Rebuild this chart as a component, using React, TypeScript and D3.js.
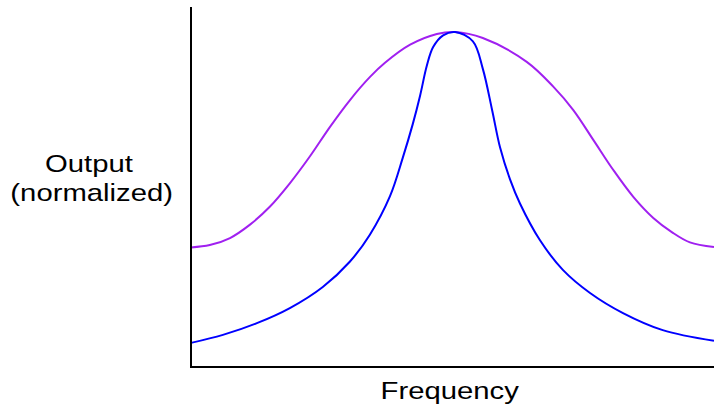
import * as React from 'react';
import { scaleLinear, line, curveCatmullRom } from 'd3';

// frequency (0-100 across the plot) and normalized output
const broadFreq = [0, 3.6, 7.46, 11.28, 15.11, 18.93, 22.75, 26.58, 30.4, 34.23, 37.09, 41.9, 47.0, 50.5, 55.8, 64.19, 69.27, 73.1, 76.92, 80.75, 84.57, 88.39, 92.0, 95.4, 100];
const broadOut = [0.357, 0.364, 0.385, 0.425, 0.479, 0.549, 0.629, 0.717, 0.797, 0.866, 0.908, 0.962, 0.994, 1.0, 0.982, 0.911, 0.837, 0.767, 0.678, 0.588, 0.508, 0.445, 0.402, 0.372, 0.358];

const sharpFreq = [0, 6.1, 12.6, 18.9, 25.2, 30.4, 34.2, 38.05, 40.5, 42.4, 43.8, 45.1, 46.3, 48.2, 50.5, 53.9, 55.8, 57.6, 59.1, 61.0, 62.9, 66.7, 71.1, 76.3, 82.6, 90.2, 100];
const sharpOut = [0.072, 0.096, 0.131, 0.176, 0.239, 0.315, 0.395, 0.51, 0.625, 0.725, 0.81, 0.9, 0.955, 0.99, 1.0, 0.972, 0.89, 0.765, 0.655, 0.56, 0.488, 0.379, 0.29, 0.221, 0.161, 0.11, 0.078];

const yLabel = ['Output', '(normalized)'];
const xLabel = 'Frequency';

const W = 714;
const H = 414;

const App = () => {
    const margin = { top: 7, left: 191, right: 0, bottom: 47 };
    const x = scaleLinear().domain([0, 100]).range([margin.left, W - margin.right]);
    const y = scaleLinear().domain([0, 1]).range([H - margin.bottom, 32]);

    const toPts = (xs: number[], ys: number[]) => xs.map((v, i) => [v, ys[i]] as [number, number]);
    const path = line<[number, number]>()
        .x(d => x(d[0]))
        .y(d => y(d[1]))
        .curve(curveCatmullRom.alpha(0.5));

    const x0 = x(0);
    const yBase = y(0);
    // the labels in the reference are a bit wider than plain Arial
    const stretch = 1.22;

    return (
        <svg width={W} height={H} style={{ position: 'absolute', left: 0, top: 0, background: 'white' }}
            fontFamily="Liberation Sans, Arial, sans-serif">
            <path d={path(toPts(broadFreq, broadOut)) || ''} fill="none" stroke="#a020f0" strokeWidth={2} />
            <path d={path(toPts(sharpFreq, sharpOut)) || ''} fill="none" stroke="#0000ff" strokeWidth={2} />

            {/* axes, no ticks */}
            <line x1={x0} x2={x0} y1={margin.top} y2={yBase + 1} stroke="black" strokeWidth={2} />
            <line x1={x0 - 1} x2={x(100)} y1={yBase} y2={yBase} stroke="black" strokeWidth={2} />

            <text transform={`translate(89,171.5) scale(${stretch},1)`} textAnchor="middle" fontSize={24} fill="black">{yLabel[0]}</text>
            <text transform={`translate(91.7,201) scale(${stretch},1)`} textAnchor="middle" fontSize={24} fill="black">{yLabel[1]}</text>
            <text transform={`translate(449.7,399) scale(${stretch},1)`} textAnchor="middle" fontSize={24} fill="black">{xLabel}</text>
        </svg>
    );
};

export default App;
